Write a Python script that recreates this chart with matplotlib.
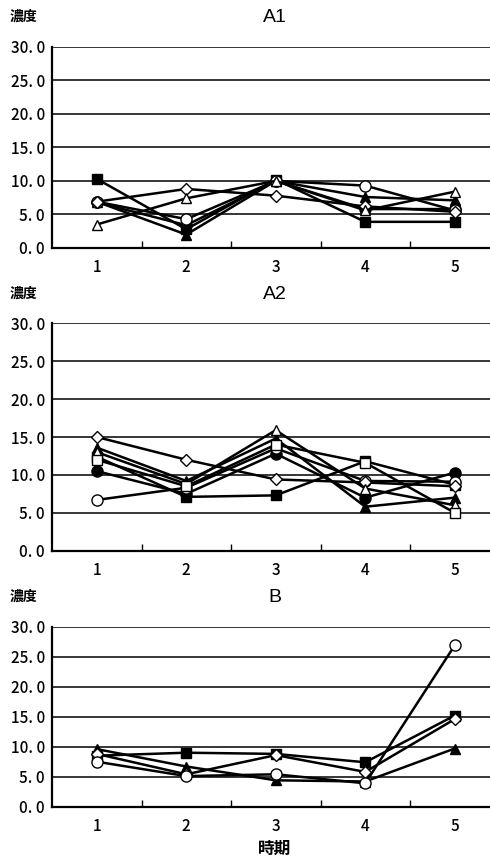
import numpy as np
import matplotlib
matplotlib.use("Agg")
import matplotlib.pyplot as plt

plt.rcParams['font.family'] = ['Noto Sans CJK JP', 'DejaVu Sans']

periods = [1, 2, 3, 4, 5]

# A1
a1_sq_f = [10.3, 2.8, 10.2, 3.9, 3.9]
a1_tri_f = [6.9, 2.0, 10.0, 7.6, 7.1]
a1_circ_o = [6.9, 4.3, 10.0, 9.3, 5.6]
a1_dia_o = [6.9, 8.8, 7.8, 6.2, 5.4]
a1_tri_o = [3.5, 7.4, 10.0, 5.6, 8.4]
a1_circ_f = [6.8, 3.4, 10.0, 5.8, 5.8]

# A2
a2_dia_o = [15.0, 12.0, 9.4, 9.0, 8.5]
a2_tri_f = [13.6, 9.2, 14.8, 5.8, 7.0]
a2_sq_f = [12.4, 7.1, 7.3, 11.8, 8.7]
a2_circ_f = [10.5, 7.5, 12.8, 7.0, 10.3]
a2_circ_o = [6.7, 8.3, 13.5, 9.2, 9.1]
a2_tri_o = [13.0, 8.8, 15.9, 8.2, 6.0]
a2_sq_o = [12.0, 8.5, 14.0, 11.6, 5.0]

# B
b_tri_f = [9.6, 6.7, 4.4, 4.2, 9.7]
b_sq_f = [8.5, 9.0, 8.8, 7.4, 15.2]
b_circ_o = [7.5, 5.1, 5.4, 3.9, 26.9]
b_dia_o = [8.8, 5.4, 8.6, 5.8, 14.6]

y_ticks = [0, 5, 10, 15, 20, 25, 30]
y_labels = ['0. 0', '5. 0', '10. 0', '15. 0', '20. 0', '25. 0', '30. 0']

W, H = 490, 860
fig = plt.figure(figsize=(W / 100, H / 100), dpi=100)

def style(m):
    filled = m.endswith('f')
    marker = {'sq': 's', 'tri': '^', 'circ': 'o', 'dia': 'D'}[m.split('_')[0]]
    size = {'s': 7.5, '^': 7.5, 'o': 8, 'D': 5.8}[marker]
    return dict(marker=marker, markersize=size, color='black',
                markerfacecolor='black' if filled else 'white',
                markeredgecolor='black', markeredgewidth=1.0, linewidth=1.8)

def panel(top, bottom, title, series):
    ax = fig.add_axes([52 / W, 1 - bottom / H, (W - 52) / W, (bottom - top) / H])
    for y in y_ticks[1:]:
        ax.axhline(y, color='black', linewidth=1.1, zorder=1)
    for key, vals in series:
        ax.plot(periods, vals, zorder=3, clip_on=False, **style(key))
    ax.set_xlim(0.5, 0.5 + (W - 52) / 89.5)
    ax.set_ylim(0, 30)
    ax.set_yticks(y_ticks)
    ax.set_yticklabels(y_labels, fontsize=11, fontweight='medium')
    ax.set_xticks(periods)
    ax.set_xticklabels([str(p) for p in periods], fontsize=11, fontweight='medium')
    ax.set_xticks([1.5, 2.5, 3.5, 4.5], minor=True)
    ax.tick_params(axis='x', which='major', length=0, pad=8)
    ax.tick_params(axis='x', which='minor', direction='in', length=5, width=1)
    ax.tick_params(axis='y', length=0, pad=5)
    for s in ['top', 'right']:
        ax.spines[s].set_visible(False)
    ax.spines['left'].set_linewidth(1.6)
    ax.spines['bottom'].set_linewidth(1.6)
    fig.text(275 / W, 1 - (top - 29) / H, title, ha='center', va='center',
             fontsize=14, family=['Liberation Sans', 'DejaVu Sans'])
    fig.text(10 / W, 1 - (top - 30) / H, '濃度', ha='left', va='center',
             fontsize=10, fontweight='bold')
    return ax

panel(46.7, 248, 'A1', [('sq_f', a1_sq_f), ('tri_f', a1_tri_f), ('circ_f', a1_circ_f),
                        ('circ_o', a1_circ_o), ('dia_o', a1_dia_o), ('tri_o', a1_tri_o)])
panel(323.3, 550.7, 'A2', [('sq_f', a2_sq_f), ('tri_f', a2_tri_f), ('circ_f', a2_circ_f),
                           ('circ_o', a2_circ_o), ('dia_o', a2_dia_o), ('tri_o', a2_tri_o),
                           ('sq_o', a2_sq_o)])
panel(626.7, 806.7, 'B', [('sq_f', b_sq_f), ('tri_f', b_tri_f), ('dia_o', b_dia_o),
                          ('circ_o', b_circ_o)])

fig.text(275 / W, 1 - 849 / H, '時期', ha='center', va='center', fontsize=12,
         fontweight='bold')

fig.savefig('out.png', dpi=100)
